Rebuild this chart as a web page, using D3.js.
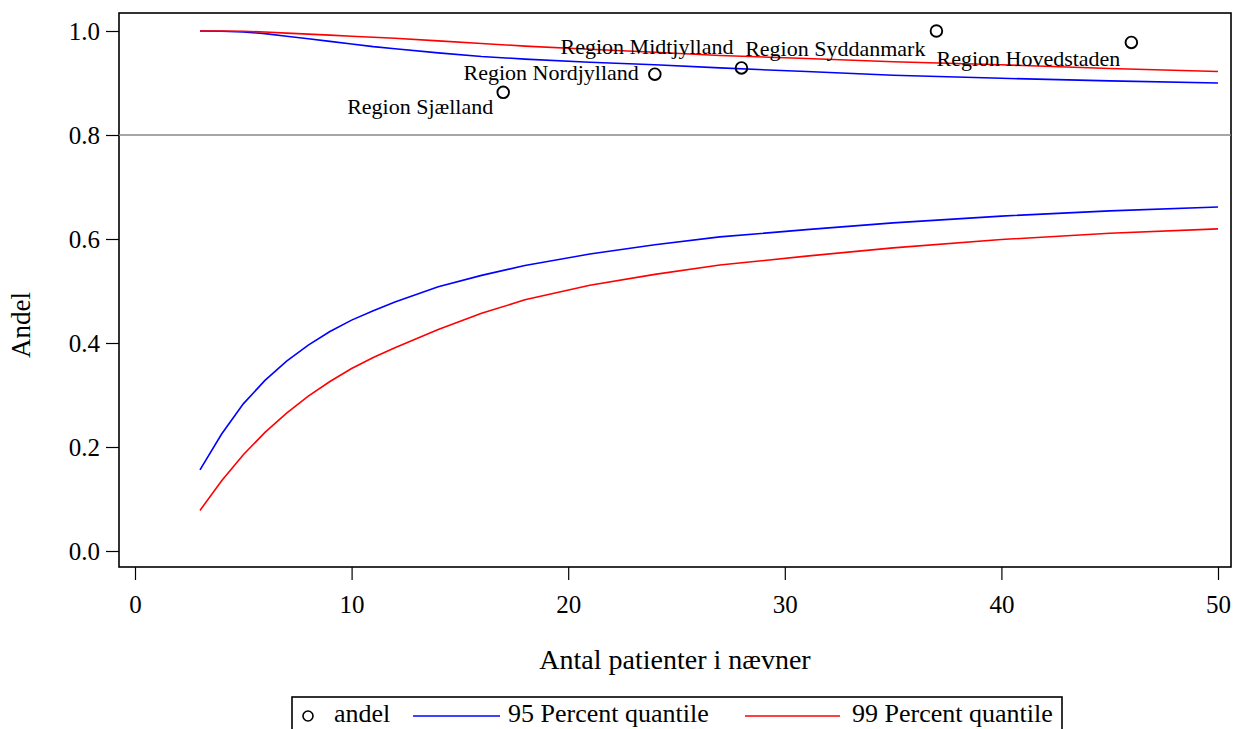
<!DOCTYPE html>
<html>
<head>
<meta charset="utf-8">
<script src="https://cdn.jsdelivr.net/npm/d3@7"></script>
<style>
  html, body { margin: 0; padding: 0; background: #fff; }
  svg { display: block; font-family: "Liberation Serif", "DejaVu Serif", serif; }
</style>
</head>
<body>
<svg id="chart" width="1234" height="729"></svg>
<script>
// Regional shares
const regions = ["Region Sjælland", "Region Nordjylland", "Region Midtjylland", "Region Syddanmark", "Region Hovedstaden"];
const regionN = [17, 24, 28, 37, 46];
const regionShare = [0.882, 0.917, 0.929, 1.0, 0.978];

// Funnel limits by denominator size
const limitN = [3, 4, 5, 6, 7, 8, 9, 10, 11, 12, 14, 16, 18, 21, 24, 27, 31, 35, 40, 45, 50];
const lower95 = [0.156, 0.225, 0.283, 0.328, 0.365, 0.396, 0.422, 0.444, 0.462, 0.479, 0.508, 0.530, 0.549, 0.571, 0.589, 0.604, 0.618, 0.631, 0.644, 0.654, 0.6615];
const upper95 = [1.0, 0.9995, 0.998, 0.995, 0.990, 0.985, 0.980, 0.975, 0.970, 0.966, 0.958, 0.951, 0.946, 0.940, 0.935, 0.929, 0.922, 0.915, 0.909, 0.904, 0.900];
const lower99 = [0.078, 0.135, 0.185, 0.228, 0.265, 0.298, 0.326, 0.351, 0.372, 0.391, 0.426, 0.457, 0.483, 0.511, 0.532, 0.550, 0.567, 0.583, 0.599, 0.611, 0.6195];
const upper99 = [1.0, 1.0, 0.9995, 0.998, 0.996, 0.994, 0.992, 0.990, 0.988, 0.986, 0.981, 0.976, 0.971, 0.965, 0.959, 0.953, 0.947, 0.941, 0.935, 0.928, 0.922];

const targetShare = 0.8;
const xTicks = [0, 10, 20, 30, 40, 50];
const yTicks = [0.0, 0.2, 0.4, 0.6, 0.8, 1.0];

// Label placement around each point: [dx, dy] of the label's right end / middle
const labelOffset = [[-10, 17], [-16, 1], [-8, -19], [-11, 20], [-11, 19]];

const svg = d3.select("#chart");
const frame = { left: 119, top: 13, right: 1231, bottom: 567 };

const x = d3.scaleLinear().domain([0, 50]).range([135, 1218]);
const y = d3.scaleLinear().domain([0, 1]).range([551, 31]);

// Plot frame
svg.append("rect")
  .attr("x", frame.left).attr("y", frame.top)
  .attr("width", frame.right - frame.left).attr("height", frame.bottom - frame.top)
  .attr("fill", "none").attr("stroke", "#000").attr("stroke-width", 1.6);

// Axes
const yAxis = d3.axisLeft(y).tickValues(yTicks).tickFormat(d3.format(".1f")).tickSize(13).tickPadding(6);
const gy = svg.append("g").attr("transform", `translate(${frame.left},0)`).call(yAxis);
gy.select(".domain").remove();
gy.selectAll("text").attr("font-size", 25).attr("font-family", "Liberation Serif").attr("fill", "#000");
gy.selectAll("line").attr("stroke", "#000").attr("stroke-width", 1.2);

const xAxis = d3.axisBottom(x).tickValues(xTicks).tickFormat(d3.format("d")).tickSize(13).tickPadding(15);
const gx = svg.append("g").attr("transform", `translate(0,${frame.bottom})`).call(xAxis);
gx.select(".domain").remove();
gx.selectAll("text").attr("font-size", 25).attr("font-family", "Liberation Serif").attr("fill", "#000");
gx.selectAll("line").attr("stroke", "#000").attr("stroke-width", 1.2);

// Axis titles
svg.append("text")
  .attr("transform", "translate(24,325) rotate(-90)")
  .attr("text-anchor", "middle").attr("dominant-baseline", "middle")
  .attr("font-size", 27).text("Andel");
svg.append("text")
  .attr("x", (frame.left + frame.right) / 2).attr("y", 669)
  .attr("text-anchor", "middle").attr("font-size", 28)
  .text("Antal patienter i nævner");

// Reference line at the target share
svg.append("line")
  .attr("x1", frame.left).attr("x2", frame.right)
  .attr("y1", y(targetShare)).attr("y2", y(targetShare))
  .attr("stroke", "#888").attr("stroke-width", 1.3);

// Funnel curves
const line = d3.line().x((d, i) => x(limitN[i])).y(d => y(d));
const curves = [
  { values: upper95, color: "#0000ff" },
  { values: lower95, color: "#0000ff" },
  { values: upper99, color: "#ff0000" },
  { values: lower99, color: "#ff0000" }
];
svg.append("g").selectAll("path").data(curves).join("path")
  .attr("d", c => line(c.values))
  .attr("fill", "none").attr("stroke", c => c.color).attr("stroke-width", 1.6);

// Region points and labels
const pts = regions.map((name, i) => ({ name, n: regionN[i], v: regionShare[i], off: labelOffset[i] }));
svg.append("g").selectAll("circle").data(pts).join("circle")
  .attr("cx", d => x(d.n)).attr("cy", d => y(d.v)).attr("r", 5.8)
  .attr("fill", "none").attr("stroke", "#000").attr("stroke-width", 1.9);
svg.append("g").selectAll("text").data(pts).join("text")
  .attr("x", d => x(d.n) + d.off[0]).attr("y", d => y(d.v) + d.off[1])
  .attr("text-anchor", "end").attr("dominant-baseline", "middle")
  .attr("font-size", 22).text(d => d.name);

// Legend
const lg = svg.append("g");
lg.append("rect").attr("x", 292).attr("y", 697).attr("width", 770).attr("height", 40)
  .attr("fill", "none").attr("stroke", "#000").attr("stroke-width", 1.6);
const legendY = 716;
lg.append("circle").attr("cx", 308).attr("cy", legendY).attr("r", 5)
  .attr("fill", "none").attr("stroke", "#000").attr("stroke-width", 1.6);
lg.append("text").attr("x", 334).attr("y", legendY).attr("dominant-baseline", "middle").attr("font-size", 26).text("andel");
lg.append("line").attr("x1", 413).attr("x2", 500).attr("y1", legendY).attr("y2", legendY).attr("stroke", "#0000ff").attr("stroke-width", 1.6);
lg.append("text").attr("x", 508).attr("y", legendY).attr("dominant-baseline", "middle").attr("font-size", 26).text("95 Percent quantile");
lg.append("line").attr("x1", 745).attr("x2", 840).attr("y1", legendY).attr("y2", legendY).attr("stroke", "#ff0000").attr("stroke-width", 1.6);
lg.append("text").attr("x", 852).attr("y", legendY).attr("dominant-baseline", "middle").attr("font-size", 26).text("99 Percent quantile");
</script>
</body>
</html>
